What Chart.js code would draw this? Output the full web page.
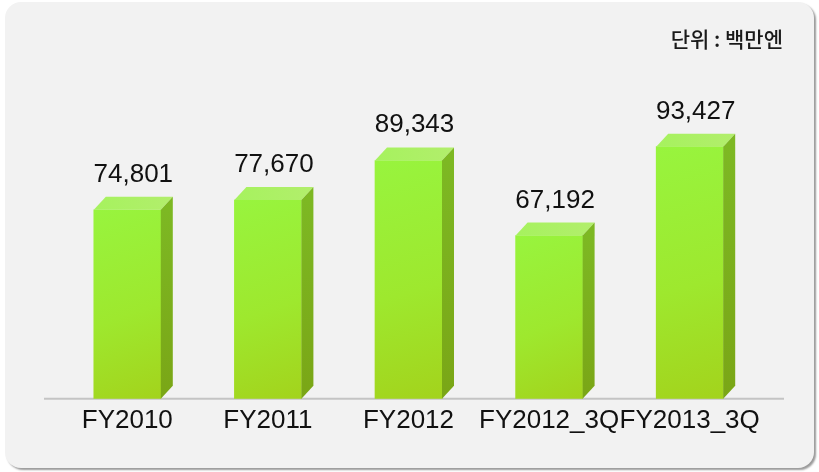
<!DOCTYPE html>
<html lang="ko">
<head>
<meta charset="utf-8">
<title>매출 추이</title>
<script src="https://cdn.jsdelivr.net/npm/chart.js@4.4.1/dist/chart.umd.min.js"></script>
<style>
  html, body { margin: 0; padding: 0; background: #fff; }
  #wrap { position: relative; width: 819px; height: 472px; overflow: hidden; }
  #panel {
    position: absolute; left: 5px; top: 2px; width: 809px; height: 466px;
    background: #f2f2f2; border-radius: 16px;
    box-shadow: 2px 2px 2px #9a9a9a;
  }
  #salesChart { position: absolute; left: 0; top: 0; }
</style>
</head>
<body>
<div id="wrap">
  <div id="panel"></div>
  <canvas id="salesChart" width="819" height="472"></canvas>
</div>
<script>
const categories = ["FY2010", "FY2011", "FY2012", "FY2012_3Q", "FY2013_3Q"];
const sales = [74801, 77670, 89343, 67192, 93427];
const unitLabel = "단위 : 백만엔";

const DEPTH_X = 12;
const DEPTH_Y = 13;
const FONT = "'Liberation Sans', Arial, sans-serif";

// front face gradient for each bar
function frontColor(ctx) {
  const chart = ctx.chart;
  const area = chart.chartArea;
  if (!area) return "#9cf03a";
  const xs = chart.scales.x;
  const ys = chart.scales.y;
  const cx = xs.getPixelForValue(ctx.dataIndex);
  const top = ys.getPixelForValue(sales[ctx.dataIndex]);
  const g = chart.ctx.createLinearGradient(cx - 34, top, cx + 34, area.bottom);
  g.addColorStop(0, "#98f43e");
  g.addColorStop(0.55, "#9ee82e");
  g.addColorStop(1, "#a3d31c");
  return g;
}

// axis line, 3D faces and value labels
const bar3d = {
  id: "bar3d",
  beforeDatasetsDraw(chart) {
    const { ctx, chartArea } = chart;
    ctx.save();
    ctx.strokeStyle = "#c4c4c4";
    ctx.lineWidth = 2;
    ctx.beginPath();
    ctx.moveTo(chartArea.left - 13, chartArea.bottom);
    ctx.lineTo(chartArea.right + 24, chartArea.bottom);
    ctx.stroke();
    ctx.restore();
  },
  afterDatasetsDraw(chart) {
    const { ctx, chartArea } = chart;
    const meta = chart.getDatasetMeta(0);
    const base = chartArea.bottom;
    meta.data.forEach((bar, i) => {
      const { x, y, width } = bar.getProps(["x", "y", "width"], true);
      const l = x - width / 2;
      const r = x + width / 2;
      ctx.save();

      // top face
      const gt = ctx.createLinearGradient(l, y, r + DEPTH_X, y);
      gt.addColorStop(0, "#a6f25e");
      gt.addColorStop(1, "#b2ee6c");
      ctx.fillStyle = gt;
      ctx.beginPath();
      ctx.moveTo(l, y);
      ctx.lineTo(l + DEPTH_X, y - DEPTH_Y);
      ctx.lineTo(r + DEPTH_X, y - DEPTH_Y);
      ctx.lineTo(r, y);
      ctx.closePath();
      ctx.fill();

      // side face
      const gs = ctx.createLinearGradient(r, y, r, base);
      gs.addColorStop(0, "#7db823");
      gs.addColorStop(1, "#7aa616");
      ctx.fillStyle = gs;
      ctx.beginPath();
      ctx.moveTo(r, y);
      ctx.lineTo(r + DEPTH_X, y - DEPTH_Y);
      ctx.lineTo(r + DEPTH_X, base - DEPTH_Y);
      ctx.lineTo(r, base);
      ctx.closePath();
      ctx.fill();

      // value label
      ctx.fillStyle = "#111";
      ctx.font = "26px " + FONT;
      ctx.textAlign = "center";
      ctx.textBaseline = "alphabetic";
      ctx.fillText(sales[i].toLocaleString("en-US"), x + DEPTH_X / 2, y - DEPTH_Y - 15);
      ctx.restore();
    });

    // unit label
    ctx.save();
    ctx.fillStyle = "#1a1a1a";
    ctx.font = "500 21px 'Noto Sans CJK KR', sans-serif";
    ctx.textAlign = "right";
    ctx.textBaseline = "middle";
    ctx.fillText(unitLabel, 783, 39);
    ctx.restore();
  }
};

new Chart(document.getElementById("salesChart"), {
  type: "bar",
  data: {
    labels: categories,
    datasets: [
      {
        data: sales,
        backgroundColor: frontColor,
        borderWidth: 0,
        barThickness: 67,
      },
    ],
  },
  options: {
    responsive: false,
    animation: false,
    devicePixelRatio: 1,
    layout: { padding: { left: 57, right: 59, top: 60, bottom: 30 } },
    plugins: {
      legend: { display: false },
      tooltip: { enabled: false },
    },
    scales: {
      x: {
        grid: { display: false, drawTicks: false },
        border: { display: false },
        ticks: {
          padding: 6,
          color: "#111",
          font: { family: FONT, size: 26 },
          maxRotation: 0,
          autoSkip: false,
        },
      },
      y: {
        display: false,
        min: 19000,
        max: 119000,
      },
    },
  },
  plugins: [bar3d],
});
</script>
</body>
</html>
